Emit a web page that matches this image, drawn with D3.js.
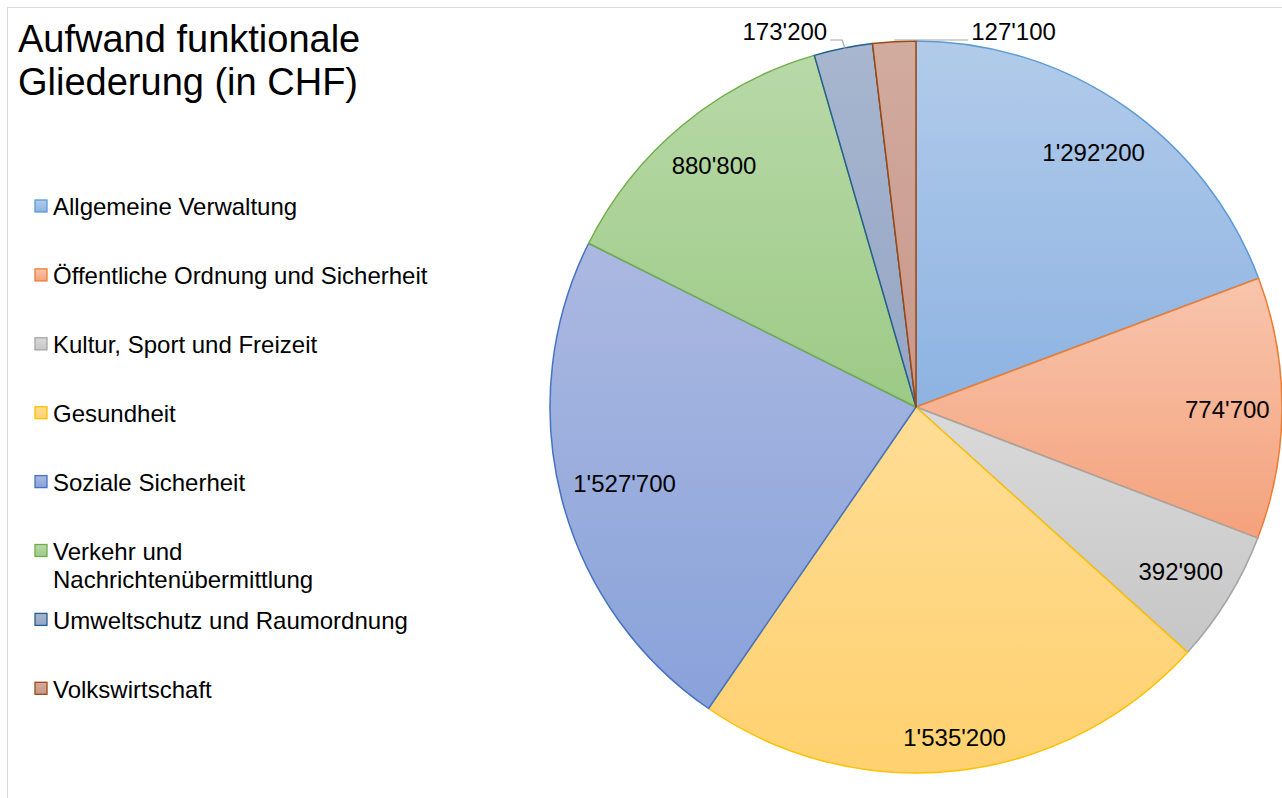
<!DOCTYPE html>
<html>
<head>
<meta charset="utf-8">
<script src="https://cdn.jsdelivr.net/npm/d3@7"></script>
<style>
  body { margin: 0; background: #fff; }
  svg { display: block; font-family: Arial, "Liberation Sans", sans-serif; }
</style>
</head>
<body>
<div id="chart"></div>
<script>
// data
var categories = [
  'Allgemeine Verwaltung',
  'Öffentliche Ordnung und Sicherheit',
  'Kultur, Sport und Freizeit',
  'Gesundheit',
  'Soziale Sicherheit',
  'Verkehr und Nachrichtenübermittlung',
  'Umweltschutz und Raumordnung',
  'Volkswirtschaft'
]
var values = [1292200, 774700, 392900, 1535200, 1527700, 880800, 173200, 127100]

// styles
var strokeColors = ['#5b9bd5', '#ed7d31', '#a5a5a5', '#ffc000', '#4472c4', '#70ad47', '#255e91', '#9e480e']
var topColors = ['#b2cbea', '#f8c5ad', '#dadada', '#ffdd96', '#abb9e1', '#b8d9a8', '#a8b6cf', '#d2ab9f']
var bottomColors = ['#8db3e2', '#f4a27c', '#c6c6c6', '#ffd16f', '#89a2da', '#9dca86', '#94a6c5', '#c8978a']

var width = 1282, height = 798
var cx = 916, cy = 407, R = 366

var svg = d3.select('#chart')
  .append('svg')
  .attr('width', width)
  .attr('height', height)

// chart frame
svg.append('rect')
  .attr('x', 7.5).attr('y', 7.5)
  .attr('width', width + 20).attr('height', height + 20)
  .attr('fill', 'none')
  .attr('stroke', '#d9d9d9')
  .attr('stroke-width', 1)

var defs = svg.append('defs')
categories.forEach(function(c, i) {
  var g = defs.append('linearGradient')
    .attr('id', 'grad' + i)
    .attr('x1', 0).attr('y1', 0).attr('x2', 0).attr('y2', 1)
  g.append('stop').attr('offset', '0%').attr('stop-color', topColors[i])
  g.append('stop').attr('offset', '100%').attr('stop-color', bottomColors[i])
})

// title
var title = svg.append('text')
  .attr('x', 18)
  .attr('y', 52)
  .attr('font-size', 38)
  .attr('fill', '#000')
title.append('tspan').attr('x', 18).text('Aufwand funktionale')
title.append('tspan').attr('x', 18).attr('dy', 43).text('Gliederung (in CHF)')

// pie
var pie = d3.pie().sort(null).value(d => d)
var arcs = pie(values)
var arc = d3.arc().innerRadius(0).outerRadius(R)

var gPie = svg.append('g')
  .attr('transform', 'translate(' + cx + ',' + cy + ')')

gPie.selectAll('path')
  .data(arcs)
  .enter()
  .append('path')
  .attr('d', arc)
  .attr('fill', (d, i) => 'url(#grad' + i + ')')
  .attr('stroke', (d, i) => strokeColors[i])
  .attr('stroke-width', 1.5)
  .attr('stroke-linejoin', 'round')

var fmt = d => d3.format(',')(d).replace(/,/g, "'")

// inside labels: slide along the mid ray until the far corner touches the limit
var labelLimit = R - 12
arcs.forEach(function(d, i) {
  if (d.endAngle - d.startAngle < 0.3) return
  var a = (d.startAngle + d.endAngle) / 2
  var t = gPie.append('text')
    .attr('font-size', 24)
    .attr('text-anchor', 'middle')
    .attr('dy', '0.42em')
    .attr('fill', '#000')
    .text(fmt(d.data))
  var bb = t.node().getBBox()
  var w = bb.width / 2, h = bb.height / 2
  var lo = 0, hi = R
  for (var k = 0; k < 40; k++) {
    var r = (lo + hi) / 2
    var x = r * Math.sin(a), y = -r * Math.cos(a)
    var far = d3.max([[-w, -h], [w, -h], [-w, h], [w, h]], p => Math.hypot(x + p[0], y + p[1]))
    if (far > labelLimit) hi = r; else lo = r
  }
  t.attr('x', lo * Math.sin(a)).attr('y', -lo * Math.cos(a))
})

// outside labels with leader lines for the two thin slices
var outside = [
  { idx: 6, side: -1, lead: 13 },
  { idx: 7, side: 1, lead: 74 }
]
outside.forEach(function(o) {
  var d = arcs[o.idx]
  var a = (d.startAngle + d.endAngle) / 2
  var px = R * Math.sin(a), py = -R * Math.cos(a)
  var ly = -R - 1
  var pts
  if (o.side < 0) {
    pts = [[px + 2, py + 1], [px - 1, ly], [px - o.lead, ly]]
  } else {
    pts = [[px, ly], [px + o.lead, ly]]
  }
  gPie.append('path')
    .attr('d', d3.line()(pts))
    .attr('fill', 'none')
    .attr('stroke', '#a6a6a6')
    .attr('stroke-width', 1.2)
  var end = pts[pts.length - 1]
  gPie.append('text')
    .attr('x', end[0] + o.side * 3)
    .attr('y', ly - 8)
    .attr('dy', '0.35em')
    .attr('font-size', 24)
    .attr('text-anchor', o.side < 0 ? 'end' : 'start')
    .attr('fill', '#000')
    .text(fmt(d.data))
})

// legend
var legendTop = 207, legendStep = 68.9
var gLegend = svg.append('g')
categories.forEach(function(c, i) {
  var y = legendTop + i * legendStep
  gLegend.append('rect')
    .attr('x', 35).attr('y', y - 7)
    .attr('width', 12).attr('height', 12)
    .attr('fill', 'url(#grad' + i + ')')
    .attr('stroke', strokeColors[i])
    .attr('stroke-width', 1.3)
  var t = gLegend.append('text')
    .attr('x', 53)
    .attr('y', y)
    .attr('dy', '0.35em')
    .attr('font-size', 24)
    .attr('fill', '#000')
  // wrap long entries
  var words = c.split(' '), line = []
  var tspan = t.append('tspan').attr('x', 53)
  words.forEach(function(wd) {
    line.push(wd)
    tspan.text(line.join(' '))
    if (tspan.node().getComputedTextLength() > 380 && line.length > 1) {
      line.pop()
      tspan.text(line.join(' '))
      line = [wd]
      tspan = t.append('tspan').attr('x', 53).attr('dy', 28).text(wd)
    }
  })
})
</script>
</body>
</html>
